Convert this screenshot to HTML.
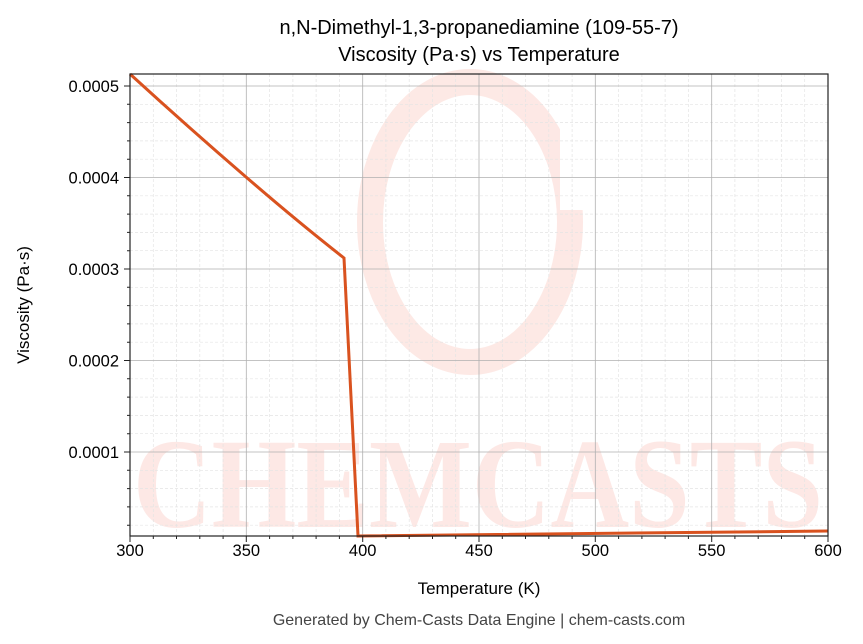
<!DOCTYPE html>
<html><head><meta charset="utf-8"><style>
body{margin:0;background:#fff;}
svg{display:block;font-family:"Liberation Sans","DejaVu Sans",sans-serif;}
</style></head><body>
<svg width="863" height="644" xmlns="http://www.w3.org/2000/svg">
<rect width="863" height="644" fill="#fff"/>
<g opacity="0.8">
<ellipse cx="470" cy="222" rx="100" ry="140" fill="none" stroke="#fde3df" stroke-width="26"/>
<rect x="560" y="90" width="40" height="120" fill="#fff"/>
<text x="478" y="527" text-anchor="middle" font-family="Liberation Serif,serif" font-weight="bold" font-size="128" fill="#fde3df" textLength="690" lengthAdjust="spacingAndGlyphs">CHEMCASTS</text>
</g>
<g stroke="#e4e4e4" stroke-width="0.7" stroke-dasharray="3,2">
<path d="M153.3,74V536M176.5,74V536M199.8,74V536M223.1,74V536M269.6,74V536M292.9,74V536M316.1,74V536M339.4,74V536M385.9,74V536M409.2,74V536M432.5,74V536M455.7,74V536M502.3,74V536M525.5,74V536M548.8,74V536M572.1,74V536M618.6,74V536M641.9,74V536M665.1,74V536M688.4,74V536M734.9,74V536M758.2,74V536M781.5,74V536M804.7,74V536"/>
<path d="M130,104.3H828M130,122.6H828M130,140.9H828M130,159.2H828M130,195.8H828M130,214.1H828M130,232.4H828M130,250.7H828M130,287.3H828M130,305.6H828M130,323.9H828M130,342.2H828M130,378.8H828M130,397.1H828M130,415.4H828M130,433.7H828M130,470.3H828M130,488.6H828M130,506.9H828M130,525.2H828"/>
</g>
<g stroke="#b0b0b0" stroke-width="0.8">
<path d="M246.3,74V536M362.7,74V536M479,74V536M595.3,74V536M711.7,74V536"/>
<path d="M130,86H828M130,177.5H828M130,269H828M130,360.5H828M130,452H828"/>
</g>
<path d="M130,74 Q188,127 246,177 Q298,222 344,258 L358,536 L828,531" fill="none" stroke="#d9521f" stroke-width="3"/>
<rect x="130" y="74" width="698" height="462" fill="none" stroke="#222" stroke-width="1.2"/>
<g stroke="#222" stroke-width="1">
<path d="M130,536v6M246.3,536v6M362.7,536v6M479,536v6M595.3,536v6M711.7,536v6M828,536v6"/>
<path d="M153.3,536v3M176.5,536v3M199.8,536v3M223.1,536v3M269.6,536v3M292.9,536v3M316.1,536v3M339.4,536v3M385.9,536v3M409.2,536v3M432.5,536v3M455.7,536v3M502.3,536v3M525.5,536v3M548.8,536v3M572.1,536v3M618.6,536v3M641.9,536v3M665.1,536v3M688.4,536v3M734.9,536v3M758.2,536v3M781.5,536v3M804.7,536v3"/>
<path d="M124,86h6M124,177.5h6M124,269h6M124,360.5h6M124,452h6"/>
<path d="M127,104.3h3M127,122.6h3M127,140.9h3M127,159.2h3M127,195.8h3M127,214.1h3M127,232.4h3M127,250.7h3M127,287.3h3M127,305.6h3M127,323.9h3M127,342.2h3M127,378.8h3M127,397.1h3M127,415.4h3M127,433.7h3M127,470.3h3M127,488.6h3M127,506.9h3M127,525.2h3"/>
</g>
<g font-size="16.5" fill="#000" text-anchor="middle">
<text x="130" y="556">300</text><text x="246.3" y="556">350</text><text x="362.7" y="556">400</text><text x="479" y="556">450</text><text x="595.3" y="556">500</text><text x="711.7" y="556">550</text><text x="828" y="556">600</text>
</g>
<g font-size="16.5" fill="#000" text-anchor="end">
<text x="119" y="92">0.0005</text><text x="119" y="183.5">0.0004</text><text x="119" y="275">0.0003</text><text x="119" y="366.5">0.0002</text><text x="119" y="458">0.0001</text>
</g>
<text x="479" y="594" font-size="17" text-anchor="middle">Temperature (K)</text>
<text transform="translate(29,305) rotate(-90)" font-size="17" text-anchor="middle">Viscosity (Pa·s)</text>
<text x="479" y="34" font-size="20" text-anchor="middle">n,N-Dimethyl-1,3-propanediamine (109-55-7)</text>
<text x="479" y="61" font-size="20" text-anchor="middle">Viscosity (Pa·s) vs Temperature</text>
<text x="479" y="625" font-size="16" fill="#444" text-anchor="middle">Generated by Chem-Casts Data Engine | chem-casts.com</text>
</svg>
</body></html>
